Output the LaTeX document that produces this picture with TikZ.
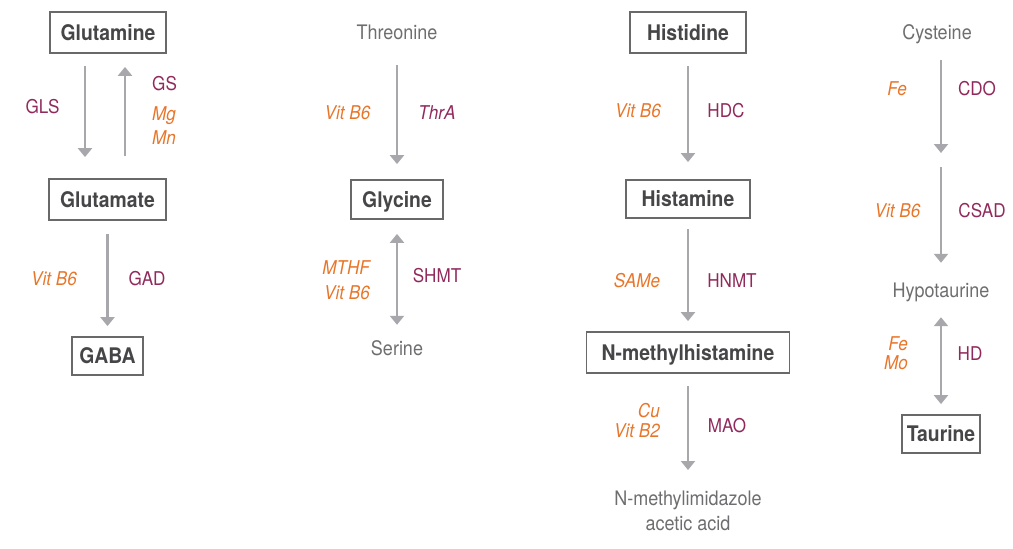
\documentclass[tikz,border=0pt]{standalone}
\usepackage{fontspec}
\setmainfont{TeX Gyre Heros}[FakeStretch=0.9]
\usetikzlibrary{arrows.meta}

\definecolor{boxline}{RGB}{105,105,105}
\definecolor{boxtext}{RGB}{70,70,72}
\definecolor{metabtext}{RGB}{110,110,112}
\definecolor{enzyme}{RGB}{145,42,92}
\definecolor{cofactor}{RGB}{232,118,42}
\definecolor{flowgray}{RGB}{168,168,172}

\begin{document}
\begin{tikzpicture}[x=1pt,y=-1pt,
  metabox/.style={draw=boxline, line width=1.8pt, inner sep=0pt, text=boxtext,
    font=\fontsize{21.5}{24}\selectfont\bfseries, text height=15.4pt, text depth=0pt},
  metab/.style={inner sep=0pt, text=metabtext, font=\fontsize{20}{24}\selectfont,
    text height=14.4pt, text depth=4pt, anchor=base},
  enz/.style={inner sep=0pt, text=enzyme, font=\fontsize{19}{22}\selectfont, anchor=base},
  cof/.style={inner sep=0pt, text=cofactor, font=\fontsize{19}{22}\selectfont\itshape, anchor=base},
  flow/.style={draw=flowgray, line width=2.6pt, -{Triangle[width=14pt,length=9pt]}},
  bothflow/.style={draw=flowgray, line width=2.6pt,
    {Triangle[width=14pt,length=9pt]}-{Triangle[width=14pt,length=9pt]}},
]
\useasboundingbox (0,0) rectangle (1013,549);

% ---- Glutamine / Glutamate / GABA ----
\node[metabox, minimum width=116pt, minimum height=41pt] (glutamine) at (108,32.5) {Glutamine};
\node[metabox, minimum width=117pt, minimum height=41pt] (glutamate) at (107.5,199.5) {Glutamate};
\node[metabox, minimum width=71pt, minimum height=38pt] (gaba) at (107.5,356) {GABA};

\draw[flow, shorten <=12pt, shorten >=21pt] ([xshift=-23pt]glutamine.south) -- ([xshift=-22.5pt]glutamate.north);
\draw[flow, shorten <=22pt, shorten >=13pt] ([xshift=17.5pt]glutamate.north) -- ([xshift=17pt]glutamine.south);
\draw[flow, shorten <=13pt, shorten >=10pt] (glutamate.south) -- (gaba.north);

\node[enz] (glsLbl) at (42.5,113) {GLS};
\node[enz, anchor=base west] (gsLbl) at (152,90) {GS};
\node[cof, anchor=base west] (mgLbl) at (152,120) {Mg};
\node[cof, anchor=base west] (mnLbl) at (152,144) {Mn};
\node[cof] (gadCof) at (54,285) {Vit B6};
\node[enz] (gadLbl) at (147,285) {GAD};

% ---- Threonine / Glycine / Serine ----
\node[metab] (threonine) at (397,39) {Threonine};
\node[metabox, minimum width=92pt, minimum height=39pt] (glycine) at (397,199.5) {Glycine};
\node[metab] (serine) at (397,355) {Serine};

\draw[flow, shorten <=22pt, shorten >=15pt] (threonine.south) -- (glycine.north);
\draw[bothflow, shorten <=14pt, shorten >=15.6pt] (glycine.south) -- (serine.north);

\node[cof] (thraCof) at (347.5,119) {Vit B6};
\node[enz, font=\fontsize{19}{22}\selectfont\itshape] (thraLbl) at (437,119) {ThrA};
\node[cof, anchor=base east] (mthfLbl) at (370,274) {MTHF};
\node[cof, anchor=base east] (shmtCof) at (370,299) {Vit B6};
\node[enz] (shmtLbl) at (437,282) {SHMT};

% ---- Histidine / Histamine / N-methylhistamine ----
\node[metabox, minimum width=116pt, minimum height=41pt] (histidine) at (688,32.5) {Histidine};
\node[metabox, minimum width=124pt, minimum height=38pt] (histamine) at (688,199) {Histamine};
\node[metabox, minimum width=203pt, minimum height=41pt] (nmh) at (688,352.5) {N-methylhistamine};
\node[inner sep=0pt, text=metabtext, font=\fontsize{20}{25}\selectfont, align=center, anchor=north]
  (imid) at (688,491) {N-methylimidazole\\acetic acid};

\draw[flow, shorten <=12pt, shorten >=17pt] (histidine.south) -- (histamine.north);
\draw[flow, shorten <=10pt, shorten >=10pt] (histamine.south) -- (nmh.north);
\draw[flow, shorten <=12pt, shorten >=21pt] (nmh.south) -- (imid.north);

\node[cof] (hdcCof) at (638,117) {Vit B6};
\node[enz] (hdcLbl) at (726,117) {HDC};
\node[cof] (hnmtCof) at (637,287) {SAMe};
\node[enz] (hnmtLbl) at (732,287) {HNMT};
\node[cof, anchor=base east] (cuLbl) at (660,417) {Cu};
\node[cof, anchor=base east] (vitbtwoLbl) at (660,437) {Vit B2};
\node[enz] (maoLbl) at (727,432) {MAO};

% ---- Cysteine / Hypotaurine / Taurine ----
\node[metab] (cysteine) at (937,39) {Cysteine};
\coordinate (taurmid) at (941,160);
\node[metab] (hypotaurine) at (941,297) {Hypotaurine};
\node[metabox, minimum width=78pt, minimum height=38pt] (taurine) at (941,434) {Taurine};

\draw[flow, shorten <=17pt, shorten >=7pt] (cysteine.south -| taurmid) -- (taurmid);
\draw[flow, shorten <=7pt, shorten >=19.6pt] (taurmid) -- (hypotaurine.north);
\draw[bothflow, shorten <=16pt, shorten >=10pt] (hypotaurine.south) -- (taurine.north);

\node[cof, anchor=base east] (cdoCof) at (907,95) {Fe};
\node[enz] (cdoLbl) at (977,95) {CDO};
\node[cof] (csadCof) at (897.5,217) {Vit B6};
\node[enz] (csadLbl) at (982,217) {CSAD};
\node[cof, anchor=base east] (hdFeLbl) at (908,350) {Fe};
\node[cof, anchor=base east] (hdMoLbl) at (908,369) {Mo};
\node[enz] (hdLbl) at (970,360) {HD};
\end{tikzpicture}
\end{document}
